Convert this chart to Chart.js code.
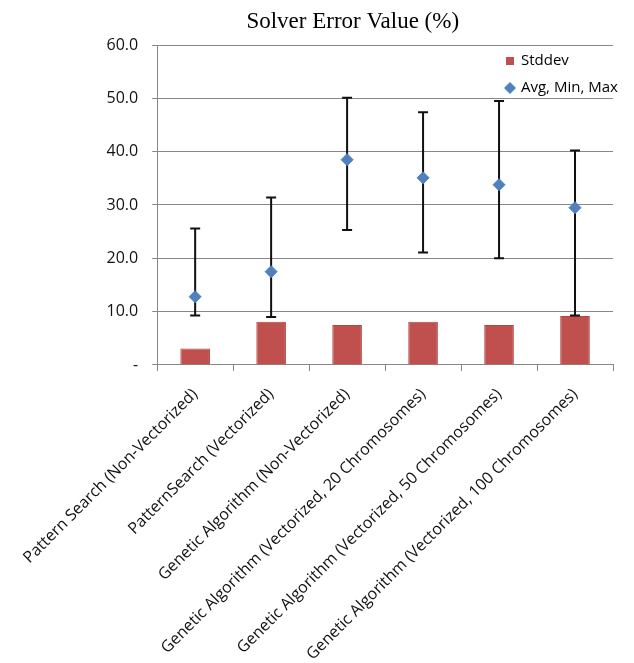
<!DOCTYPE html>
<html lang="en">
<head>
  <meta charset="UTF-8">
  <title>Solver Error Value (%)</title>
  <script src="https://cdn.jsdelivr.net/npm/chart.js"></script>
  <style>
    * { margin: 0; padding: 0; box-sizing: border-box; }
    body { background: #fff; }
    .wrap { width: 634px; height: 663px; position: relative; }
  </style>
</head>
<body>
  <div class="wrap"><canvas id="errChart"></canvas></div>

  <script>
    // chart data
    const methods = [
      'Pattern Search (Non-Vectorized)',
      'PatternSearch (Vectorized)',
      'Genetic Algorithm (Non-Vectorized)',
      'Genetic Algorithm (Vectorized, 20 Chromosomes)',
      'Genetic Algorithm (Vectorized, 50 Chromosomes)',
      'Genetic Algorithm (Vectorized, 100 Chromosomes)'
    ];
    const stddev = [3.1, 8.1, 7.5, 8.1, 7.5, 9.2];
    const avgErr = [12.8, 17.5, 38.5, 35.1, 33.8, 29.5];
    const minErr = [9.3, 9.0, 25.3, 21.1, 20.0, 9.3];
    const maxErr = [25.6, 31.4, 50.1, 47.4, 49.5, 40.2];
    const yMin = 0, yMax = 60, yStep = 10;

    const barRed = '#c0504d';
    const diamondBlue = '#4f81bd';
    const labelFont = "'Open Sans', sans-serif";

    // whiskers from min to max, drawn right after the bars
    const errorBars = {
      id: 'errorBars',
      afterDatasetDraw(chart, args) {
        if (args.index !== 0) return;
        const ctx = chart.ctx;
        const y = chart.scales.y;
        const pts = chart.getDatasetMeta(1).data;
        ctx.save();
        ctx.strokeStyle = '#111';
        ctx.lineWidth = 2;
        pts.forEach((p, i) => {
          const top = y.getPixelForValue(maxErr[i]);
          const bot = y.getPixelForValue(minErr[i]);
          ctx.beginPath();
          ctx.moveTo(p.x, top); ctx.lineTo(p.x, bot);
          ctx.moveTo(p.x - 5, top); ctx.lineTo(p.x + 5, top);
          ctx.moveTo(p.x - 5, bot); ctx.lineTo(p.x + 5, bot);
          ctx.stroke();
        });
        ctx.restore();
      }
    };

    // title centred over axis labels + plot, and legend inside plot top-right
    const decor = {
      id: 'decor',
      afterDraw(chart) {
        const ctx = chart.ctx;
        const area = chart.chartArea;
        const yScale = chart.scales.y;
        ctx.save();
        ctx.fillStyle = '#000';
        ctx.font = "23px 'Liberation Serif', serif";
        ctx.textAlign = 'center';
        ctx.textBaseline = 'middle';
        ctx.fillText('Solver Error Value (%)', (yScale.left + area.right) / 2, 22);

        const lx = area.right - 103;
        ctx.font = '15px ' + labelFont;
        ctx.textAlign = 'left';
        // Stddev
        const sy = area.top + 16;
        ctx.fillStyle = barRed;
        ctx.fillRect(lx - 4, sy - 4, 8, 8);
        ctx.fillStyle = '#000';
        ctx.fillText('Stddev', lx + 11, sy);
        // Avg, Min, Max
        const dy = area.top + 43;
        ctx.fillStyle = diamondBlue;
        ctx.beginPath();
        ctx.moveTo(lx, dy - 6); ctx.lineTo(lx + 6, dy); ctx.lineTo(lx, dy + 6); ctx.lineTo(lx - 6, dy);
        ctx.closePath();
        ctx.fill();
        ctx.fillStyle = '#000';
        ctx.fillText('Avg, Min, Max', lx + 11, dy);
        ctx.restore();
      }
    };

    const ctx = document.getElementById('errChart').getContext('2d');
    const errChart = new Chart(ctx, {
      type: 'bar',
      data: {
        labels: methods,
        datasets: [
          {
            label: 'Stddev',
            data: stddev,
            backgroundColor: barRed,
            borderColor: '#b04643',
            borderWidth: 1,
            barPercentage: 0.39,
            categoryPercentage: 1,
            order: 2
          },
          {
            type: 'line',
            label: 'Avg, Min, Max',
            data: avgErr,
            showLine: false,
            pointStyle: 'rectRot',
            pointRadius: 6,
            backgroundColor: diamondBlue,
            borderColor: diamondBlue,
            order: 1
          }
        ]
      },
      options: {
        responsive: true,
        maintainAspectRatio: false,
        animation: false,
        layout: { padding: { top: 45, right: 21, left: 84, bottom: -15 } },
        plugins: {
          legend: { display: false },
          title: { display: false },
          tooltip: { enabled: false }
        },
        scales: {
          y: {
            min: yMin,
            max: yMax,
            ticks: {
              stepSize: yStep,
              color: '#111',
              padding: 14,
              font: { family: labelFont, size: 16 },
              callback: v => v === 0 ? '-' : v.toFixed(1)
            },
            grid: { color: '#888', lineWidth: 1, tickLength: 5 },
            border: { color: '#888' }
          },
          x: {
            ticks: {
              minRotation: 45,
              maxRotation: 45,
              color: '#111',
              padding: 14,
              font: { family: labelFont, size: 16 }
            },
            grid: { drawOnChartArea: false, color: '#888', tickLength: 6 },
            border: { color: '#888' }
          }
        }
      },
      plugins: [errorBars, decor]
    });
  </script>
</body>
</html>
